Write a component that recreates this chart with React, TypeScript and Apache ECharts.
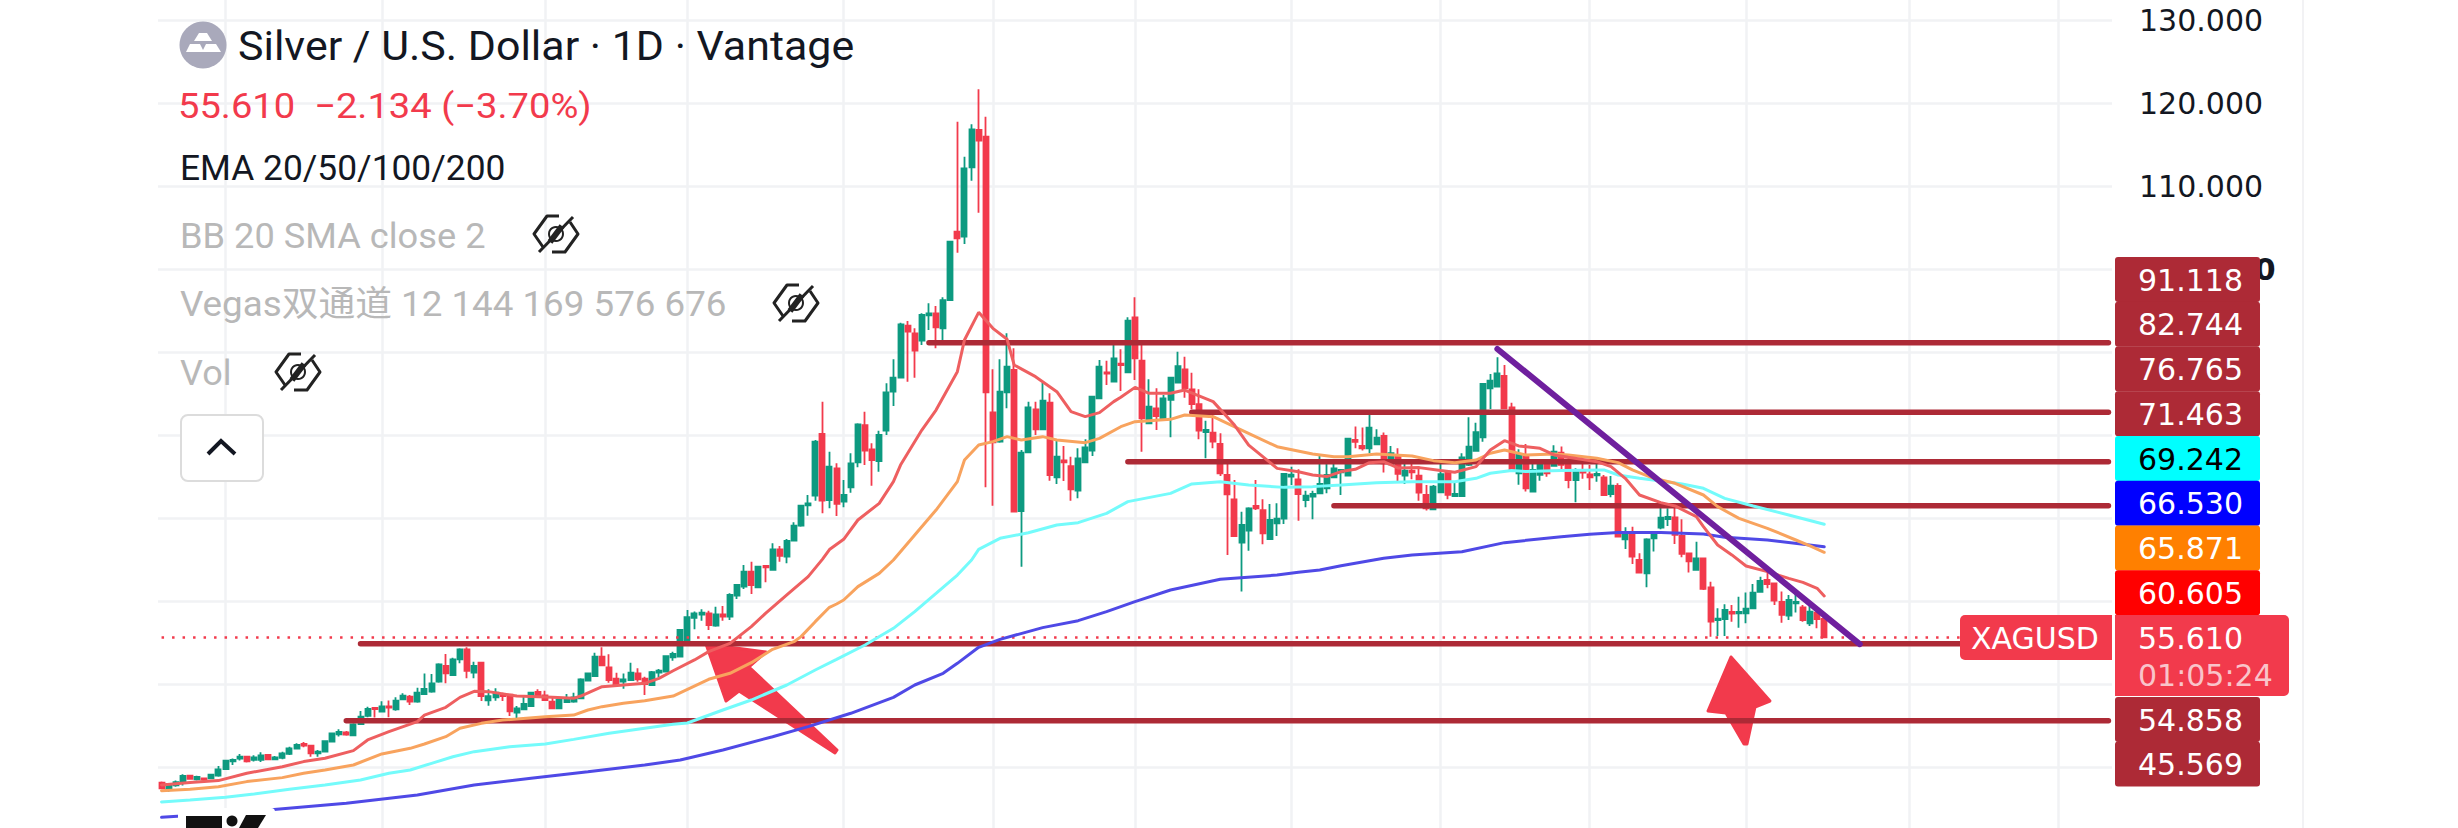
import React, { useEffect, useRef } from "react";
import * as echarts from "echarts";

// [open, close, low, high]
const candlesA: number[][] = [
[38.12,37.43,37.31,38.24],[37.31,37.96,37.03,38.04],[37.80,38.16,37.63,38.36],[38.12,38.92,37.76,39.12],[38.96,38.56,38.48,39.04],[38.52,38.80,38.36,38.96],[38.64,38.48,38.20,38.72],[38.64,39.08,38.52,39.20],[38.96,39.72,38.84,40.12],[39.76,40.77,39.64,40.85],
[40.69,40.85,40.24,41.01],[41.01,41.25,40.77,41.57],[41.25,40.69,40.53,41.33],[40.85,41.17,40.65,41.41],[40.85,41.41,40.61,41.77],[41.45,40.93,40.85,41.53],[40.93,41.17,40.81,41.33],[41.09,41.65,40.93,41.85],[41.57,42.25,41.45,42.45],[42.21,42.65,42.13,42.86],
[42.78,42.57,42.37,43.02],[42.57,41.65,41.25,42.65],[41.65,41.85,41.25,42.05],[41.85,43.10,41.77,43.18],[43.06,44.06,43.02,44.14],[43.94,44.22,43.66,44.54],[44.18,43.90,43.78,44.34],[43.82,45.14,43.74,45.27],[45.18,46.07,45.06,46.75],[46.15,46.99,45.99,47.27],
[47.11,46.99,45.95,47.19],[46.67,47.31,46.59,47.92],[47.31,47.15,45.99,48.00],[46.95,48.00,46.79,48.40],[48.16,48.60,48.08,48.88],[48.48,47.88,47.47,48.68],
];
const candlesB: number[][] = [
[47.87,48.96,47.75,49.56],[48.79,49.40,48.67,51.28],[49.08,50.08,48.96,51.20],[50.28,52.37,50.16,52.49],[52.17,51.28,50.08,53.61],[51.08,52.97,50.96,53.17],[52.97,54.18,52.49,54.30],[54.18,51.57,50.68,54.42],[51.36,52.17,50.68,52.69],[52.57,48.55,47.95,52.61],
[48.03,48.55,47.39,49.36],[48.39,48.96,47.99,49.48],[48.79,48.55,47.95,48.96],[48.71,46.71,46.14,48.79],[46.55,47.07,45.66,47.35],[46.95,47.59,46.87,48.55],[47.35,48.96,47.27,49.08],[49.04,48.55,48.39,49.36],[48.63,48.07,47.99,49.20],[47.87,47.07,46.95,48.39],
[47.07,48.07,46.95,48.15],[47.83,48.27,47.75,48.79],[47.87,48.39,47.75,48.96],[48.27,50.56,48.19,50.68],[50.40,51.28,50.36,51.36],[50.96,53.29,50.88,53.77],[53.29,52.25,52.17,54.42],[52.01,50.48,50.16,53.57],[50.64,50.00,49.68,51.36],[50.28,50.56,49.44,51.28],
[50.48,51.36,50.36,52.57],[51.28,50.56,50.28,51.89],[50.64,50.00,48.67,50.88],[49.88,51.44,49.76,51.57],[51.36,51.61,50.80,51.81],[51.48,53.37,51.40,53.45],
];
const candlesC: number[][] = [
[53.22,53.62,52.81,53.90],[53.30,56.51,53.22,56.59],[54.90,58.04,54.70,58.92],[57.96,58.52,56.59,58.72],[58.36,58.60,57.63,59.00],[58.52,57.11,56.51,58.84],[57.03,58.40,56.91,59.32],[58.40,58.12,57.63,59.40],[58.12,60.73,57.71,60.93],[60.65,61.93,60.24,62.05],
[61.73,63.54,61.45,64.34],[63.54,61.93,60.85,64.74],[61.65,64.14,61.53,64.22],[64.22,64.06,62.25,64.22],[63.74,66.23,63.66,66.95],[66.23,65.43,64.74,66.63],[65.35,67.23,64.54,67.47],[67.27,69.08,67.19,69.48],[69.08,71.49,68.96,71.57],[71.53,71.77,70.28,72.77],
[72.69,79.20,72.09,79.40],[80.12,72.09,70.57,84.02],
];
const candlesD: number[][] = [
[72.17,76.18,71.16,77.99],[75.98,71.69,70.24,76.59],[71.97,72.77,71.29,74.58],[73.69,76.59,73.05,77.79],[76.71,81.28,76.10,81.41],[81.20,78.11,76.38,82.81],[78.27,76.99,73.90,79.00],[76.87,80.00,75.58,80.52],[80.52,85.14,80.00,86.22],[85.22,86.91,83.49,89.12],
[86.91,93.33,86.83,93.53],[93.17,92.45,86.43,93.73],[92.25,90.16,86.91,92.85],[91.36,94.46,90.84,94.66],[94.42,94.66,92.65,95.86],[94.66,92.97,90.44,95.54],[92.85,96.26,91.04,96.59],[96.26,103.29,96.18,103.37],[104.50,103.69,101.97,117.75],[103.89,112.13,103.01,113.53],
[112.25,116.83,110.64,117.43],[116.75,115.46,106.79,121.65],[115.94,85.14,73.69,118.35],[82.73,79.12,71.49,87.91],[79.20,85.22,79.08,89.12],[85.14,88.23,83.21,92.25],[87.83,70.76,70.76,90.44],[70.84,77.87,64.14,78.19],[77.91,83.33,77.87,84.02],[83.09,80.68,80.00,84.02],
];
const candlesE: number[][] = [
[80.68,84.14,80.68,86.30],[83.89,75.18,74.50,85.02],[74.90,77.39,74.10,79.32],[76.95,76.71,74.46,78.67],[76.26,73.45,72.09,77.39],[73.29,77.19,72.37,78.39],[76.71,78.51,76.59,79.48],[78.11,84.62,77.47,84.70],[84.42,88.23,84.34,89.04],[87.55,87.39,86.02,88.95],
[86.43,89.24,86.35,91.24],[88.59,88.43,85.30,90.32],[87.55,93.77,87.43,94.18],[94.18,89.24,86.63,96.59],[88.95,82.01,77.99,91.24],[81.41,83.41,81.33,86.71],[83.21,82.29,80.60,85.62],[81.81,84.42,81.69,84.82],[84.22,86.91,79.72,86.91],[86.30,88.31,86.22,90.04],
[87.91,85.62,84.50,89.44],[85.50,83.73,83.09,87.51],[83.73,80.52,79.48,85.50],[80.36,80.60,77.19,81.73],[80.28,79.20,78.39,82.61],[78.92,75.38,75.06,80.20],[75.18,72.85,65.54,76.67],[72.25,67.83,67.83,74.58],[67.03,69.16,61.13,70.76],[68.47,71.16,66.06,71.29],
[71.45,71.16,70.96,74.58],[70.96,68.15,66.83,72.25],[67.47,69.76,67.35,71.69],[69.36,69.92,67.83,71.77],[69.92,75.30,69.28,75.38],[74.98,75.22,73.98,76.18],[74.66,72.89,69.68,75.86],[72.17,72.69,71.29,73.29],[72.57,72.89,69.84,73.29],
];
const candlesF: number[][] = [
[72.98,74.10,72.90,77.59],[73.58,75.19,72.98,76.67],[74.90,75.99,74.82,76.91],[75.51,75.79,72.78,75.79],[75.11,79.56,75.06,79.64],[79.40,79.16,78.40,81.01],[78.68,78.40,78.12,80.89],[78.40,80.89,77.80,83.02],[78.88,79.68,78.80,80.69],[79.88,76.59,75.47,80.29],
[76.47,77.80,76.39,78.68],[77.47,75.31,74.26,78.40],[75.11,75.71,74.10,76.75],[75.71,75.51,74.66,76.51],[75.11,73.06,72.09,76.19],[72.78,71.17,70.89,73.98],[71.05,73.78,70.97,73.98],[73.10,75.27,73.06,76.99],[75.59,72.78,72.25,75.71],[72.65,72.90,72.57,74.26],
[72.65,77.31,72.57,77.80],[76.39,78.60,76.27,82.13],[78.08,80.33,78.00,81.49],[79.72,86.15,79.20,86.23],[85.63,86.55,83.14,87.35],[85.83,87.43,85.75,89.36],[87.11,83.22,83.10,88.44],[83.34,75.87,75.79,83.90],[75.39,77.72,74.02,78.28],[77.51,73.58,73.18,78.92],
[73.18,75.79,73.14,76.67],[75.19,76.67,74.50,77.07],[76.91,75.39,74.98,77.07],[76.27,77.99,76.19,78.76],[77.88,76.39,75.59,78.60],
];
const candlesG: number[][] = [
[77.07,74.58,73.58,77.47],[74.58,75.79,71.89,75.99],[75.63,75.46,74.74,76.79],[75.26,74.90,73.38,76.39],[75.14,75.30,74.38,76.99],[74.90,72.77,72.69,75.18],[72.89,73.90,72.49,75.06],[73.86,67.75,67.67,74.18],[67.43,68.28,66.27,68.88],[68.28,65.34,64.46,68.96],
[64.94,63.42,63.34,65.75],[63.34,67.43,61.65,67.55],[67.55,68.24,65.95,68.36],[68.84,70.04,68.64,71.37],[69.88,70.12,69.04,71.17],[70.08,67.96,66.87,71.57],[67.83,65.67,65.26,69.84],[65.75,64.78,63.42,65.83],[63.74,65.14,63.66,67.15],[65.14,61.45,61.33,65.22],
[61.65,57.51,55.70,62.33],[57.71,57.87,55.79,59.12],[57.83,58.92,55.79,59.60],[58.68,58.48,57.51,59.52],[58.52,58.68,56.79,60.52],[58.52,59.08,57.31,61.01],[59.12,61.01,59.04,62.05],[61.09,62.41,61.01,62.93],[62.53,62.05,61.53,63.54],[62.13,60.04,59.52,62.13],
[59.88,58.32,57.39,61.13],[58.24,60.12,57.71,60.73],[59.72,59.88,58.60,60.85],[59.24,57.71,57.51,59.52],[57.31,58.72,56.99,59.92],[58.60,57.83,56.71,59.12],[57.83,55.61,55.50,58.12],
];

// [bar index, value]
const ema20: number[][] = [[0,37.84],[4,38.12],[8,38.36],[12,39.24],[17,40.04],[20,40.65],[23,41.05],[27,41.97],[29,43.26],[32,44.26],[36,45.47],[37,46.26],[40,47.19],[42,48.39],[44,49.12],[46,49.08],[50,48.55],[55,48.39],[58,48.27],[59,48.55],[62,49.68],[65,49.88],[68,50.08],[70,50.68],[72,51.6],[75,52.90],[77,53.90],[80,54.90],[83,56.91],[85,58.52],[88,60.73],[91,62.94],[93,65.02],[94,66.2],[96,67.43],[98,69.76],[101,71.77],[103,74.38],[104,76.38],[107,80.60],[109,83.01],[112,87.63],[113,91.45],[115,94.78],[117,92.85],[119,91.53],[120,88.43],[123,87.03],[126,85.22],[128,82.81],[130,82.21],[132,82.69],[134,84.02],[135,84.54],[137,85.74],[139,85.02],[142,85.02],[144,85.42],[148,84.02],[151,81.20],[153,78.79],[157,75.98],[160,75.58],[162,75.19],[164,74.99],[166,75.59],[168,75.87],[170,76.67],[172,76.79],[174,76.03],[177,76.07],[180,75.71],[182,75.51],[185,76.19],[187,78.20],[189,79.32],[191,78.68],[194,78.40],[196,77.60],[198,77.31],[202,76.79],[204,76.19],[206,74.78],[208,72.77],[211,71.85],[213,71.45],[216,70.16],[217,68.96],[219,66.75],[221,65.55],[223,64.22],[226,63.54],[229,62.73],[231,62.25],[233,61.53],[234,60.61]];
const ema50: number[][] = [[0,37.15],[4,37.31],[8,37.63],[12,38.24],[17,38.72],[20,39.24],[23,39.64],[27,40.24],[31,41.57],[35,42.25],[37,42.77],[40,43.65],[42,44.66],[45,45.26],[48,45.66],[50,45.78],[54,46.06],[58,46.26],[60,46.87],[62,47.27],[65,47.67],[68,47.99],[72,48.55],[77,50.57],[80,51.29],[83,52.57],[86,54.18],[89,55.10],[90,55.71],[92,57.51],[94,59.24],[95,59.64],[96,60.12],[98,61.73],[101,63.33],[103,64.94],[106,67.95],[109,70.96],[112,74.38],[113,76.99],[115,78.79],[117,79.20],[119,79.80],[121,79.40],[124,79.80],[126,79.40],[130,79.08],[132,79.60],[135,81.00],[137,81.61],[142,81.89],[144,82.41],[148,82.21],[152,80.60],[157,78.59],[162,77.72],[165,77.39],[167,77.39],[171,77.72],[176,77.47],[179,76.91],[182,76.67],[185,76.99],[187,77.80],[189,78.20],[192,77.60],[196,77.72],[198,77.59],[202,77.19],[205,76.67],[207,75.79],[210,74.78],[213,74.18],[217,72.77],[219,71.37],[222,69.96],[226,68.76],[230,67.35],[232,66.63],[234,65.87]];
const ema100: number[][] = [[0,35.79],[4,36.03],[9,36.35],[13,36.75],[18,37.31],[23,37.84],[28,38.44],[32,39.24],[35,39.64],[38,40.44],[41,41.24],[44,41.85],[49,42.45],[54,42.77],[58,43.33],[63,44.06],[68,44.66],[72,45.14],[74,45.3],[79,46.87],[83,48.07],[88,49.88],[92,51.69],[95,52.97],[99,54.70],[103,56.71],[106,58.72],[109,60.92],[112,63.13],[114,64.94],[115,66.22],[118,67.55],[122,68.23],[126,69.16],[129,69.44],[133,70.56],[136,71.97],[142,72.97],[145,74.10],[149,74.38],[153,73.98],[158,73.69],[162,73.78],[166,73.98],[171,74.26],[176,74.38],[179,74.38],[182,74.38],[185,74.78],[187,75.39],[190,75.71],[192,75.59],[197,75.71],[203,75.79],[205,75.18],[208,74.78],[211,74.46],[214,74.10],[217,73.58],[220,72.37],[224,71.45],[229,70.36],[234,69.24]];
const ema200: number[][] = [[0,33.94],[5,34.22],[15,34.82],[26,35.62],[36,36.63],[44,37.83],[52,38.64],[60,39.43],[68,40.24],[73,40.84],[79,42.05],[86,43.65],[91,44.86],[97,46.47],[103,48.39],[106,49.88],[110,51.29],[112,52.49],[115,54.42],[118,55.38],[124,56.79],[129,57.63],[133,58.72],[137,59.92],[142,61.33],[149,62.61],[157,63.13],[160,63.46],[163,63.74],[166,64.25],[172,65.14],[176,65.54],[183,65.94],[189,67.03],[197,67.75],[201,68.03],[205,68.24],[211,68.24],[217,68.08],[220,67.67],[226,67.35],[234,66.53]];

// level, first bar of the drawn line
const levels: number[][] = [[91.118,108],[82.744,145],[76.765,136],[71.463,165],[54.858,28],[45.569,26]];
const trendLine: number[][] = [[188,90.36],[239,54.8]];
const lastPrice = 55.61;
const gridBars = [9,31,54,74,96,117,137,159,180,201,223,246,267];
const barCount = 275;
const priceLabels: [string, string, string][] = [
  ["91.118","#ad2a36","#ffffff"],["82.744","#ad2a36","#ffffff"],["76.765","#ad2a36","#ffffff"],["71.463","#ad2a36","#ffffff"],
  ["69.242","#00ffff","#000000"],["66.530","#0000ff","#ffffff"],["65.871","#ff8000","#ffffff"],["60.605","#ff0000","#ffffff"],
];
const lowerLabels: [string, string, string][] = [["54.858","#ad2a36","#ffffff"],["45.569","#ad2a36","#ffffff"]];

const RED = "#f23a4c";
const LEFT = 'Roboto, "Noto Sans CJK SC", sans-serif';
const AXIS = '"DejaVu Sans", sans-serif';

const label = (text: string, x: number, y: number, size: number, fill: string, scaleX = 1, fontFamily = LEFT, z = 30) => ({
  type: "text", x, y, scaleX, z,
  style: { text, x: 0, y: 0, fontSize: size, fontFamily, fill, verticalAlign: "middle", align: "left" },
});

const eye = (cx: number, cy: number) => {
  const stroke = { stroke: "#222", lineWidth: 3, fill: "none", lineJoin: "round" };
  return [
    { type: "polyline", x: cx, y: cy, z: 30, shape: { points: [[3,-18],[-9,-18],[-22,0],[-13,13]] }, style: stroke },
    { type: "polyline", x: cx, y: cy, z: 30, shape: { points: [[-4,18],[9,18],[22,0],[14,-12]] }, style: stroke },
    { type: "line", x: cx, y: cy, z: 30, shape: { x1: 17, y1: -17, x2: -17, y2: 18 }, style: stroke },
    { type: "line", x: cx, y: cy, z: 30, shape: { x1: 6, y1: -8, x2: -6, y2: 8 }, style: { stroke: "#222", lineWidth: 6 } },
    { type: "circle", x: cx, y: cy, z: 30, shape: { cx: 0, cy: 0, r: 7 }, style: { stroke: "#222", lineWidth: 2, fill: "none" } },
  ];
};

export default function App() {
  const ref = useRef<HTMLDivElement>(null);
  useEffect(() => {
    const chart = echarts.init(ref.current!, undefined, { renderer: "svg" });
    const lineSeries = (data: number[][], color: string, width: number, z: number, extra: any = {}) => ({
      type: "line", data, z, showSymbol: false, symbol: "none", silent: true, animation: false,
      lineStyle: { color, width, cap: "round", ...extra },
    });
    const graphics: any[] = [];
    // pane edge
    graphics.push({ type: "line", z: 1, shape: { x1: 2303, y1: 0, x2: 2303, y2: 828 }, style: { stroke: "#f2f2f4", lineWidth: 2 } });
    // arrows
    graphics.push({ type: "polygon", z: 3, shape: { points: [[706,644],[766,652],[749,667],[837,750],[835,753],[739,691],[726,701]] }, style: { fill: RED, stroke: RED, lineWidth: 3, lineJoin: "round" } });
    graphics.push({ type: "polygon", z: 3, shape: { points: [[1731,657],[1770,701],[1755,707],[1747,744],[1744,744],[1726,713],[1708,711]] }, style: { fill: RED, stroke: RED, lineWidth: 3, lineJoin: "round" } });
    // logo
    graphics.push({ type: "rect", z: 10, shape: { x: 178, y: 808, width: 97, height: 20, r: 4 }, style: { fill: "#ffffff" } });
    graphics.push({ type: "polygon", z: 11, shape: { points: [[186,816],[222,816],[222,828],[186,828]] }, style: { fill: "#111" } });
    graphics.push({ type: "circle", z: 11, shape: { cx: 232, cy: 821, r: 5.5 }, style: { fill: "#111" } });
    graphics.push({ type: "polygon", z: 11, shape: { points: [[246,815],[266,815],[258,828],[239,828]] }, style: { fill: "#111" } });
    // legend
    graphics.push({ type: "circle", z: 30, shape: { cx: 203, cy: 45, r: 23.5 }, style: { fill: "#a9a9bb" } });
    graphics.push({ type: "polygon", z: 31, shape: { points: [[199,33],[207,33],[212,41],[194,41]] }, style: { fill: "#fff" } });
    graphics.push({ type: "polygon", z: 31, shape: { points: [[190,44],[200,44],[204,52],[186,52]] }, style: { fill: "#fff" } });
    graphics.push({ type: "polygon", z: 31, shape: { points: [[206,44],[216,44],[221,52],[202,52]] }, style: { fill: "#fff" } });
    graphics.push(label("Silver / U.S. Dollar · 1D · Vantage", 238, 46, 41, "#131722", 1.047));
    graphics.push(label("55.610  −2.134 (−3.70%)", 178, 106, 35, RED, 1.09));
    graphics.push(label("EMA 20/50/100/200", 180, 168, 35, "#131722", 1.01));
    graphics.push(label("BB 20 SMA close 2", 180, 236, 35, "#b8b8b8", 1.035));
    graphics.push(label("Vegas双通道 12 144 169 576 676", 180, 304, 35, "#b8b8b8", 1.05));
    graphics.push(label("Vol", 180, 373, 35, "#b8b8b8", 1.03));
    graphics.push(...eye(556, 234), ...eye(796, 303), ...eye(298, 372));
    graphics.push({ type: "rect", z: 30, shape: { x: 181, y: 415, width: 82, height: 66, r: 7 }, style: { fill: "#ffffff", stroke: "#dcdcdc", lineWidth: 2 } });
    graphics.push({ type: "polyline", z: 31, shape: { points: [[208,454],[221,441],[235,454]] }, style: { stroke: "#131722", lineWidth: 4, fill: "none" } });
    // price labels
    let top = 257;
    priceLabels.forEach(([t, bg, fg]) => {
      graphics.push({ type: "rect", z: 20, shape: { x: 2115, y: top, width: 145, height: 45, r: 3 }, style: { fill: bg } });
      graphics.push(label(t, 2138, top + 23, 30, fg, 1, AXIS));
      top += 44.75;
    });
    graphics.push({ type: "rect", z: 20, shape: { x: 1960, y: 615, width: 152, height: 45, r: [5,0,0,5] }, style: { fill: RED } });
    graphics.push(label("XAGUSD", 1971, 638, 30, "#ffffff", 1, AXIS));
    graphics.push({ type: "rect", z: 20, shape: { x: 2115, y: 615, width: 174, height: 81, r: [0,5,5,0] }, style: { fill: RED } });
    graphics.push(label("55.610", 2138, 638, 30, "#ffffff", 1, AXIS));
    graphics.push(label("01:05:24", 2138, 675, 30, "#f9c4ca", 1, AXIS));
    top = 697;
    lowerLabels.forEach(([t, bg, fg]) => {
      graphics.push({ type: "rect", z: 20, shape: { x: 2115, y: top, width: 145, height: 45, r: 3 }, style: { fill: bg } });
      graphics.push(label(t, 2138, top + 23, 30, fg, 1, AXIS));
      top += 44.5;
    });

    chart.setOption({
      animation: false,
      backgroundColor: "#ffffff",
      grid: { left: 158, width: 1954, top: -63, height: 913, containLabel: false, outerBoundsMode: "none" },
      xAxis: {
        type: "category",
        data: Array.from({ length: barCount }, (_, i) => String(i)),
        boundaryGap: true,
        axisLine: { show: false }, axisTick: { show: false }, axisLabel: { show: false },
        splitLine: {
          show: true, alignWithLabel: true,
          interval: (i: number) => gridBars.includes(i),
          lineStyle: { color: "#f1f2f4", width: 2.5 },
        },
      },
      yAxis: {
        type: "value", position: "right", min: 30, max: 140, interval: 10, scale: false,
        axisLine: { show: false }, axisTick: { show: false },
        splitLine: { show: true, lineStyle: { color: "#f1f2f4", width: 2.5 } },
        axisLabel: {
          margin: 27, align: "left", fontSize: 30, fontFamily: AXIS, color: "#131722",
          formatter: (v: number) => (v === 100 ? "{b|100.000}" : v > 100 && v < 140 ? v.toFixed(3) : ""),
          rich: { b: { fontSize: 30, fontFamily: AXIS, fontWeight: "bold", color: "#131722" } },
        },
      },
      series: [
        {
          type: "candlestick", z: 2, barWidth: 5.5, silent: true,
          data: [...candlesA, ...candlesB, ...candlesC, ...candlesD, ...candlesE, ...candlesF, ...candlesG],
          itemStyle: { color: "#0d9a80", color0: RED, borderColor: "#0d9a80", borderColor0: RED, borderWidth: 1.8 },
        },
        lineSeries([[0, lastPrice], [barCount - 1, lastPrice]], RED, 2.5, 3, { type: [2.5, 8], cap: "butt" }),
        ...levels.map(([v, start]) => lineSeries([[start, v], [barCount - 1, v]], "#ad2a36", 5.5, 3)),
        lineSeries(ema200, "#4f49e6", 3, 5),
        lineSeries(ema100, "#74fbfb", 3, 5),
        lineSeries(ema50, "#f8a35e", 3, 5),
        lineSeries(ema20, "#ee5f60", 3, 5),
        lineSeries(trendLine, "#6f1f9e", 6, 6),
      ],
      graphic: { elements: graphics },
    });
    return () => chart.dispose();
  }, []);
  return <div ref={ref} style={{ position: "fixed", left: 0, top: 0, width: 2458, height: 828 }} />;
}
